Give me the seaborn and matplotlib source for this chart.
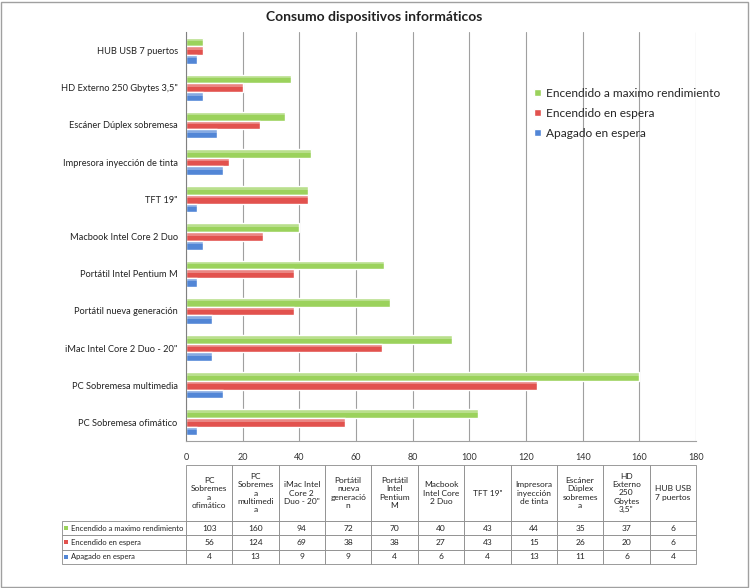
import matplotlib
matplotlib.use("Agg")
import matplotlib.pyplot as plt
import seaborn as sns
import numpy as np
import pandas as pd
from matplotlib.patches import Rectangle, Patch
from matplotlib.table import Table

# data (table order, bottom bar group first)
devices = ["PC Sobremesa ofimático", "PC Sobremesa multimedia", 'iMac Intel Core 2 Duo - 20"',
           "Portátil nueva generación", "Portátil Intel Pentium M", "Macbook Intel Core 2 Duo",
           'TFT 19"', "Impresora inyección de tinta", "Escáner Dúplex sobremesa",
           'HD Externo 250 Gbytes 3,5"', "HUB USB 7 puertos"]
table_headers = ["PC\nSobremes\na\nofimático", "PC\nSobremes\na\nmultimedi\na", 'iMac Intel\nCore 2\nDuo - 20"',
                 "Portátil\nnueva\ngeneració\nn", "Portátil\nIntel\nPentium\nM", "Macbook\nIntel Core\n2 Duo",
                 'TFT 19"', "Impresora\ninyección\nde tinta", "Escáner\nDúplex\nsobremes\na",
                 'HD\nExterno\n250\nGbytes\n3,5"', "HUB USB\n7 puertos"]
series = ["Encendido a maximo rendimiento", "Encendido en espera", "Apagado en espera"]
max_power = [103, 160, 94, 72, 70, 40, 43, 44, 35, 37, 6]
standby_on = [56, 124, 69, 38, 38, 27, 43, 15, 26, 20, 6]
standby_off = [4, 13, 9, 9, 4, 6, 4, 13, 11, 6, 4]
colors = ["#9bd25c", "#e2524e", "#5286d6"]
x_ticks = [0, 20, 40, 60, 80, 100, 120, 140, 160, 180]

df = pd.DataFrame({
    "device": devices * 3,
    "serie": [series[0]] * 11 + [series[1]] * 11 + [series[2]] * 11,
    "value": max_power + standby_on + standby_off,
})

sns.set_style("white")
plt.rcParams["font.family"] = ["Lato", "DejaVu Sans"]

fig = plt.figure(figsize=(7.5, 5.88), dpi=100)
W, H = 750, 588
ax = fig.add_axes([186 / W, 1 - 441 / H, (696 - 186) / W, (441 - 32) / H])

sns.barplot(data=df, y="device", x="value", hue="serie", order=devices[::-1], hue_order=series,
            palette=colors, orient="h", width=0.7, ax=ax, legend=False, saturation=1)

# light highlight on top of each bar for the glossy look
for p in list(ax.patches):
    x0, y0 = p.get_x(), p.get_y()
    w, h = p.get_width(), p.get_height()
    ax.add_patch(Rectangle((x0, y0), w, h * 0.4, facecolor="white", alpha=0.3, lw=0))

ax.set_xlim(0, 180)
ax.set_xticks(x_ticks)
ax.set_xlabel("")
ax.set_ylabel("")
ax.grid(axis="x", color="#a0a0a0", lw=0.8)
ax.set_axisbelow(True)
for s in ["top", "right"]:
    ax.spines[s].set_visible(False)
ax.spines["left"].set_color("#808080")
ax.spines["bottom"].set_color("#a0a0a0")
ax.tick_params(axis="x", labelsize=6.5, colors="#333333", length=4, direction="in", pad=9, color="#a0a0a0")
ax.tick_params(axis="y", labelsize=6.7, length=0, pad=6, colors="#222222")
ax.set_yticks(np.arange(-0.5, len(devices), 1), minor=True)
ax.tick_params(axis="y", which="minor", length=4, color="#808080", direction="out")

fig.text(374 / W, 1 - 17 / H, "Consumo dispositivos informáticos", ha="center", va="center",
         fontsize=10, fontweight="bold", color="#222222")

handles = [Patch(facecolor=c, label=s) for c, s in zip(colors, series)]
fig.legend(handles=handles, loc="upper left", bbox_to_anchor=(523 / W, 1 - 77 / H), frameon=False,
           fontsize=8.6, handlelength=0.6, handleheight=0.6, handletextpad=0.4, labelspacing=0.75)

# data table below the chart
tax = fig.add_axes([62 / W, 1 - 564 / H, (696 - 62) / W, (564 - 465) / H])
tax.axis("off")
tb = Table(tax, bbox=[0, 0, 1, 1])
col_w = [124] + [46.4] * len(devices)
row_h = [56, 14.3, 14.3, 14.3]
for c in range(len(devices) + 1):
    text = "" if c == 0 else table_headers[c - 1]
    cell = tb.add_cell(0, c, width=col_w[c], height=row_h[0], text=text, loc="center")
    if c == 0:
        cell.visible_edges = ""
label_cells = []
for r, (name, vals) in enumerate(zip(series, [max_power, standby_on, standby_off]), start=1):
    cell = tb.add_cell(r, 0, width=col_w[0], height=row_h[r], text="    " + name, loc="left")
    cell.PAD = 0.005
    label_cells.append(cell)
    for c, v in enumerate(vals, start=1):
        tb.add_cell(r, c, width=col_w[c], height=row_h[r], text=str(v), loc="center")
tb.auto_set_font_size(False)
tb.set_fontsize(6)
for cell in tb.get_celld().values():
    cell.set_edgecolor("#8a8a8a")
    cell.set_linewidth(0.6)
    cell.get_text().set_color("#222222")
for cell in label_cells:
    cell.get_text().set_fontsize(5.5)
tax.add_table(tb)

# legend keys inside the table row labels
for i, c in enumerate(colors):
    yc = 1 - (528 + i * 14.3) / H
    fig.add_artist(Rectangle((64 / W, yc - 2 / H), 4 / W, 4 / H, transform=fig.transFigure,
                             facecolor=c, lw=0))

fig.add_artist(Rectangle((1 / W, 1 / H), 747 / W, 585 / H, transform=fig.transFigure,
                         fill=False, edgecolor="#a0a0a0", lw=1))

fig.savefig("out.png", dpi=100)
